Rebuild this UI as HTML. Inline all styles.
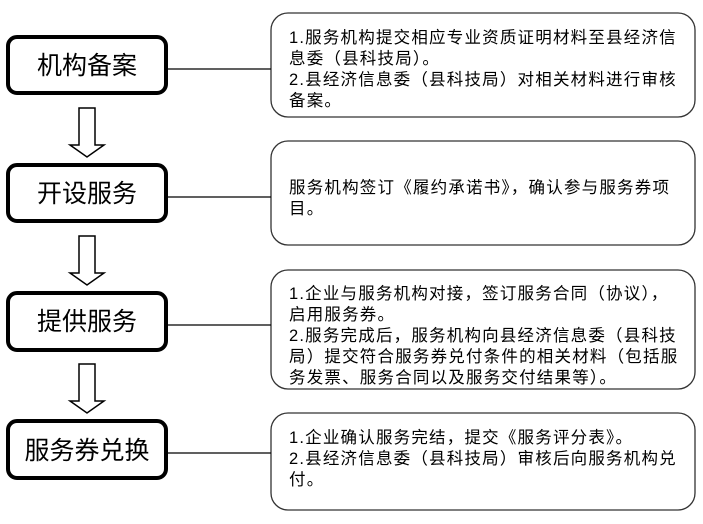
<!DOCTYPE html>
<html><head><meta charset="utf-8"><style>
body{margin:0;background:#fff}
svg text{font-family:"Liberation Sans","Noto Sans CJK SC",sans-serif;fill:#000}
.l{font-size:25px}
.r{font-size:16.5px;letter-spacing:1.2px}
</style></head><body>
<svg width="703" height="519" viewBox="0 0 703 519">
<g fill="none" stroke="#000">
<g stroke-width="4">
<rect x="8" y="37" width="158" height="56" rx="9"/>
<rect x="8" y="165" width="158" height="56" rx="9"/>
<rect x="8" y="293" width="158" height="57" rx="9"/>
<rect x="8" y="421" width="158" height="57" rx="9"/>
</g>
<g stroke-width="1.3" stroke="#333">
<rect x="271" y="13" width="424" height="104" rx="17"/>
<rect x="271" y="141" width="424" height="104" rx="17"/>
<rect x="271" y="270" width="424" height="119" rx="17"/>
<rect x="271" y="413" width="424" height="97" rx="17"/>
</g>
<g stroke-width="1.3">
<line x1="167" y1="69" x2="271" y2="69"/>
<line x1="167" y1="197" x2="271" y2="197"/>
<line x1="167" y1="325" x2="271" y2="325"/>
<line x1="167" y1="453" x2="271" y2="453"/>
</g>
<g stroke-width="1.5">
<path d="M79 108 H95 V145 H104 L87 157 L70 145 H79 Z"/>
<path d="M79 236 H95 V273 H104 L87 285 L70 273 H79 Z"/>
<path d="M79 364 H95 V401 H104 L87 413 L70 401 H79 Z"/>
</g>
</g>
<text class="l" x="87" y="74" text-anchor="middle">机构备案</text>
<text class="l" x="87" y="202" text-anchor="middle">开设服务</text>
<text class="l" x="87" y="330" text-anchor="middle">提供服务</text>
<text class="l" x="87" y="459" text-anchor="middle">服务券兑换</text>
<text class="r" x="289" y="43">1.服务机构提交相应专业资质证明材料至县经济信</text>
<text class="r" x="289" y="64">息委（县科技局）。</text>
<text class="r" x="289" y="85">2.县经济信息委（县科技局）对相关材料进行审核</text>
<text class="r" x="289" y="106">备案。</text>
<text class="r" x="289" y="193">服务机构签订《履约承诺书》，确认参与服务券项</text>
<text class="r" x="289" y="214">目。</text>
<text class="r" x="289" y="299">1.企业与服务机构对接，签订服务合同（协议），</text>
<text class="r" x="289" y="320">启用服务券。</text>
<text class="r" x="289" y="341">2.服务完成后，服务机构向县经济信息委（县科技</text>
<text class="r" x="289" y="362">局）提交符合服务券兑付条件的相关材料（包括服</text>
<text class="r" x="289" y="383">务发票、服务合同以及服务交付结果等）。</text>
<text class="r" x="289" y="443">1.企业确认服务完结，提交《服务评分表》。</text>
<text class="r" x="289" y="464">2.县经济信息委（县科技局）审核后向服务机构兑</text>
<text class="r" x="289" y="485">付。</text>
</svg>
</body></html>
